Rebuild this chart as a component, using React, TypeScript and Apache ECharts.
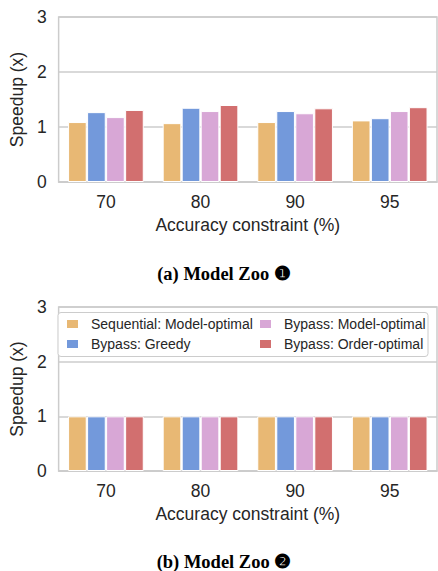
import React, { useEffect, useRef } from "react";
import * as echarts from "echarts";

const categories = ["70", "80", "90", "95"];
const seriesNames = [
  "Sequential: Model-optimal",
  "Bypass: Greedy",
  "Bypass: Model-optimal",
  "Bypass: Order-optimal",
];
const zoo1Sequential = [1.09, 1.07, 1.09, 1.12];
const zoo1Greedy = [1.27, 1.35, 1.29, 1.16];
const zoo1ModelOpt = [1.18, 1.29, 1.25, 1.29];
const zoo1OrderOpt = [1.31, 1.4, 1.34, 1.36];
const zoo2Sequential = [1.0, 1.0, 1.0, 1.0];
const zoo2Greedy = [1.0, 1.0, 1.0, 1.0];
const zoo2ModelOpt = [1.0, 1.0, 1.0, 1.0];
const zoo2OrderOpt = [1.0, 1.0, 1.0, 1.0];
const yTicks = [0, 1, 2, 3];
const colors = ["#E8B874", "#7399DB", "#D8A7D6", "#D26F6F"];

const FONT = "Liberation Sans, Arial, sans-serif";

export default function App() {
  const ref = useRef<HTMLDivElement>(null);
  useEffect(() => {
    if (!ref.current) return;
    const chart = echarts.init(ref.current, undefined, { renderer: "svg" });
    const top = [zoo1Sequential, zoo1Greedy, zoo1ModelOpt, zoo1OrderOpt];
    const bot = [zoo2Sequential, zoo2Greedy, zoo2ModelOpt, zoo2OrderOpt];
    const mkX = (gi: number) => ({
      type: "category",
      gridIndex: gi,
      data: categories,
      axisTick: { show: false },
      axisLine: { show: true, lineStyle: { color: "#cccccc", width: 1.5 } },
      axisLabel: { color: "#262626", fontSize: 17.5, fontFamily: FONT, margin: 11 },
      name: "Accuracy constraint (%)",
      nameLocation: "middle",
      nameGap: 34,
      nameTextStyle: { color: "#262626", fontSize: 17.5, fontFamily: FONT },
    });
    const mkY = (gi: number) => ({
      type: "value",
      gridIndex: gi,
      min: yTicks[0],
      max: yTicks[yTicks.length - 1],
      interval: 1,
      axisLine: { show: false },
      axisTick: { show: false },
      splitLine: { show: true, lineStyle: { color: "#cccccc", width: 1.5 } },
      axisLabel: { color: "#262626", fontSize: 17.5, fontFamily: FONT, margin: 12 },
      name: "Speedup (x)",
      nameLocation: "middle",
      nameGap: 31,
      nameTextStyle: { color: "#262626", fontSize: 17.5, fontFamily: FONT },
    });
    const mkSeries = (arrs: number[][], gi: number) =>
      arrs.map((d, i) => ({
        type: "bar",
        name: seriesNames[i],
        xAxisIndex: gi,
        yAxisIndex: gi,
        data: d,
        barCategoryGap: "20%",
        barGap: "2%",
        itemStyle: { color: colors[i], borderColor: "#ffffff", borderWidth: 1 },
      }));
    const legendCommon = {
      orient: "vertical",
      top: 312,
      itemWidth: 13,
      itemHeight: 10,
      itemGap: 6,
      icon: "rect",
      textStyle: { color: "#262626", fontSize: 14, fontFamily: FONT, padding: [0, 0, 0, 7] },
    };
    chart.setOption({
      animation: false,
      backgroundColor: "#ffffff",
      grid: [
        { left: 54, top: 17, width: 383, height: 165, show: true, borderColor: "#cccccc", borderWidth: 1.5 },
        { left: 54, top: 307, width: 383, height: 164, show: true, borderColor: "#cccccc", borderWidth: 1.5 },
      ],
      xAxis: [mkX(0), mkX(1)],
      yAxis: [mkY(0), mkY(1)],
      legend: [
        { ...legendCommon, left: 60, data: [seriesNames[0], seriesNames[1]] },
        { ...legendCommon, left: 253, data: [seriesNames[2], seriesNames[3]] },
      ],
      graphic: [
        {
          type: "rect",
          z: 0,
          shape: { x: 58, y: 312.5, width: 370, height: 44, r: 3 },
          style: { fill: "#ffffff", stroke: "#cccccc", lineWidth: 1 },
        },
        {
          type: "text",
          x: 224,
          y: 274,
          style: {
            text: "(a) Model Zoo ❶",
            font: "bold 18.5px 'Liberation Serif', 'DejaVu Serif', serif",
            fill: "#000000",
            align: "center",
            verticalAlign: "middle",
          },
        },
        {
          type: "text",
          x: 224,
          y: 562,
          style: {
            text: "(b) Model Zoo ❷",
            font: "bold 18.5px 'Liberation Serif', 'DejaVu Serif', serif",
            fill: "#000000",
            align: "center",
            verticalAlign: "middle",
          },
        },
      ],
      series: [...mkSeries(top, 0), ...mkSeries(bot, 1)],
    });
    return () => chart.dispose();
  }, []);
  return (
    <div
      ref={ref}
      style={{ position: "fixed", left: 0, top: 0, width: 438, height: 571 }}
    />
  );
}
